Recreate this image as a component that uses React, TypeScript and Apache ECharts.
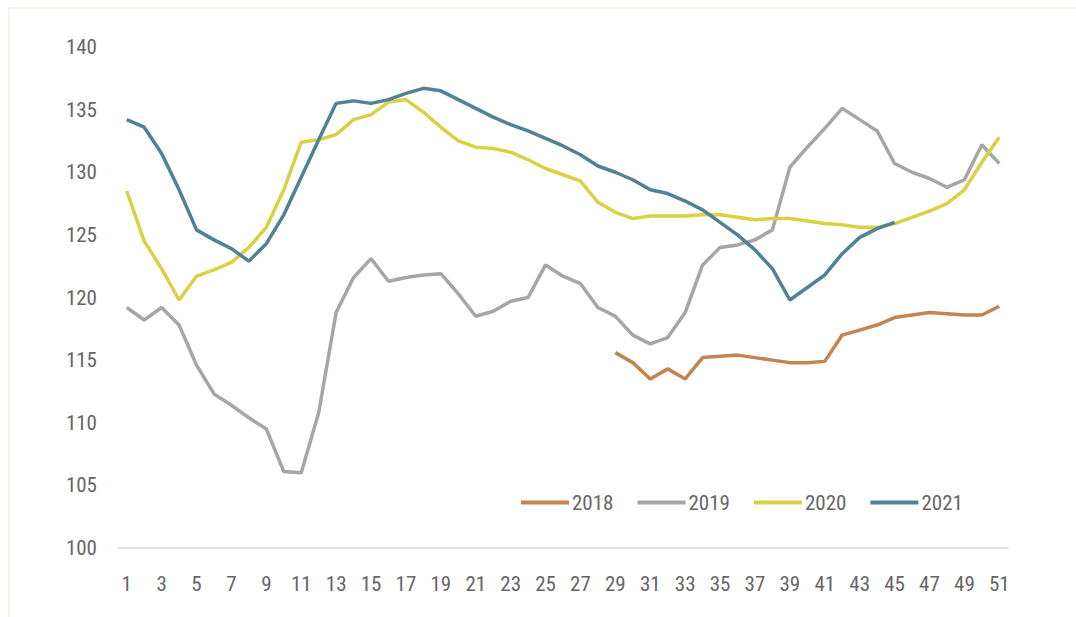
import React, { useEffect, useRef } from "react";
import * as echarts from "echarts";

const weeks: string[] = Array.from({ length: 51 }, (_, i) => String(i + 1));

const s2018: (number | null)[] = [
  null, null, null, null, null, null, null, null, null, null,
  null, null, null, null, null, null, null, null, null, null,
  null, null, null, null, null, null, null, null,
  115.6, 114.8, 113.5, 114.3, 113.5, 115.2, 115.3, 115.4, 115.2, 115.0,
  114.8, 114.8, 114.9, 117.0, 117.4, 117.8, 118.4, 118.6, 118.8, 118.7,
  118.6, 118.6, 119.3,
];

const s2019: number[] = [
  119.2, 118.2, 119.2, 117.8, 114.6, 112.3, 111.4, 110.4, 109.5, 106.1,
  106.0, 110.8, 118.8, 121.6, 123.1, 121.3, 121.6, 121.8, 121.9, 120.3,
  118.5, 118.9, 119.7, 120.0, 122.6, 121.7, 121.1, 119.2, 118.5, 117.0,
  116.3, 116.8, 118.8, 122.6, 124.0, 124.2, 124.6, 125.4, 130.4, 132.0,
  133.5, 135.1, 134.2, 133.3, 130.7, 130.0, 129.5, 128.8, 129.4, 132.2,
  130.7,
];

const s2020: number[] = [
  128.5, 124.5, 122.3, 119.8, 121.7, 122.2, 122.8, 124.0, 125.6, 128.6,
  132.4, 132.6, 133.0, 134.2, 134.6, 135.6, 135.8, 134.8, 133.6, 132.5,
  132.0, 131.9, 131.6, 131.0, 130.3, 129.8, 129.3, 127.6, 126.8, 126.3,
  126.5, 126.5, 126.5, 126.6, 126.6, 126.4, 126.2, 126.3, 126.3, 126.1,
  125.9, 125.8, 125.6, 125.6, 125.9, 126.4, 126.9, 127.5, 128.6, 130.8,
  132.8,
];

const s2021: (number | null)[] = [
  134.2, 133.6, 131.5, 128.6, 125.4, 124.6, 123.9, 122.9, 124.3, 126.6,
  129.6, 132.6, 135.5, 135.7, 135.5, 135.8, 136.3, 136.7, 136.5, 135.8,
  135.1, 134.4, 133.8, 133.3, 132.7, 132.1, 131.4, 130.5, 130.0, 129.4,
  128.6, 128.3, 127.7, 127.0, 126.0, 125.0, 123.8, 122.3, 119.8, 120.8,
  121.8, 123.5, 124.8, 125.5, 126.0, null, null, null, null, null, null,
];

const seriesNames = ["2018", "2019", "2020", "2021"];
const seriesColors = ["#c3844f", "#a6a6a6", "#d6d244", "#4f8299"];
const seriesData = [s2018, s2019, s2020, s2021];

const FONT = '"Roboto Condensed", "Liberation Sans Narrow", "DejaVu Sans Condensed", sans-serif';

export default function App() {
  const ref = useRef<HTMLDivElement>(null);
  useEffect(() => {
    if (!ref.current) return;
    const chart = echarts.init(ref.current, undefined, { renderer: "svg" });
    chart.setOption({
      animation: false,
      backgroundColor: "#ffffff",
      grid: { left: 118, right: 68, top: 47, bottom: 69 },
      graphic: [
        { type: "line", shape: { x1: 9, y1: 8, x2: 1076, y2: 8 }, style: { stroke: "#efe9dc", lineWidth: 1 } },
        { type: "line", shape: { x1: 9, y1: 8, x2: 9, y2: 617 }, style: { stroke: "#efe9dc", lineWidth: 1 } },
      ],
      legend: {
        data: seriesNames,
        left: 516,
        top: 487,
        icon: "rect",
        itemWidth: 48,
        itemHeight: 4,
        itemGap: 24,
        textStyle: { color: "#666666", fontSize: 21, fontFamily: FONT, padding: [0, 0, 0, -2] },
      },
      xAxis: {
        type: "category",
        data: weeks,
        boundaryGap: true,
        axisLine: { show: true, lineStyle: { color: "#d9d9d9", width: 1.5 } },
        axisTick: { show: false },
        axisLabel: { interval: 1, color: "#666666", fontSize: 21, fontFamily: FONT, margin: 25 },
        splitLine: { show: false },
      },
      yAxis: {
        type: "value",
        min: 100,
        max: 140,
        interval: 5,
        axisLine: { show: false },
        axisTick: { show: false },
        splitLine: { show: false },
        axisLabel: { color: "#666666", fontSize: 21, fontFamily: FONT, margin: 21 },
      },
      series: seriesNames.map((name, i) => ({
        name,
        type: "line",
        data: seriesData[i],
        showSymbol: false,
        symbol: "none",
        connectNulls: false,
        lineStyle: { color: seriesColors[i], width: 3.5 },
        itemStyle: { color: seriesColors[i] },
        z: i === 1 ? 1 : 2 + i,
      })),
    });
    return () => chart.dispose();
  }, []);
  return (
    <div
      ref={ref}
      style={{ position: "fixed", left: 0, top: 0, width: 1076, height: 617 }}
    />
  );
}
